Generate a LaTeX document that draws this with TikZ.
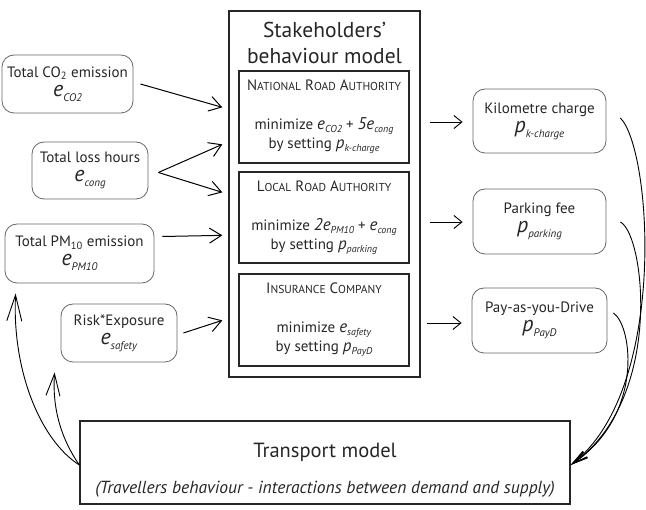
\documentclass[tikz,border=0pt]{standalone}
\usepackage{fontspec}
\setmainfont{PT Sans}
\usetikzlibrary{arrows.meta, positioning}

% variables with lowered subscripts
\newcommand{\bigvar}[2]{{\fontsize{22}{24}\selectfont\textit{#1}}\raisebox{-5pt}{\fontsize{11}{12}\selectfont\textit{#2}}}
\newcommand{\invar}[2]{{\fontsize{17}{19}\selectfont\textit{#1}}\raisebox{-3pt}{\fontsize{10}{11}\selectfont\textit{#2}}}
\newcommand{\scfont}{\fontsize{11.5}{14}\selectfont}

\begin{document}
\begin{tikzpicture} [
						x=1pt, y=-1pt,
						indicator/.style={draw=black!60, line width=0.8pt, rounded corners=12pt, align=center, inner sep=2pt},
						actor/.style={draw=black!85, line width=1.6pt, minimum width=170pt, minimum height=92pt, align=center, inner sep=2pt},
						model/.style={draw=black!85, line width=1.3pt},
						flow/.style={-{Straight Barb[length=12pt,width=15pt]}, line width=1pt},
						price/.style={-{Straight Barb[length=8pt,width=13pt]}, line width=0.9pt},
						feedback/.style={line width=0.9pt},
						every node/.style={text=black!85, font=\fontsize{15}{19}\selectfont}
					]

\useasboundingbox (0,0) rectangle (646,510);

% stakeholders
\node (stake) [model, minimum width=191pt, minimum height=366pt] at (324.5,194) {};
\node (stake-title) [align=center, font=\fontsize{21.5}{26}\selectfont] at (324.5,43) {Stakeholders’\\behaviour model};
\node (nra) [actor] at (324,117) {N{\scfont ATIONAL} R{\scfont OAD} A{\scfont UTHORITY}\\[20pt]
	minimize \invar{e}{CO2} + \invar{5e}{cong}\\ by setting \invar{p}{k-charge}};
\node (lra) [actor, minimum height=91pt] at (324,217.5) {L{\scfont OCAL} R{\scfont OAD} A{\scfont UTHORITY}\\[20pt]
	minimize \invar{2e}{PM10} + \invar{e}{cong}\\ by setting \invar{p}{parking}};
\node (ins) [actor] at (324,320) {I{\scfont NSURANCE} C{\scfont OMPANY}\\[20pt]
	minimize \invar{e}{safety}\\ by setting \invar{p}{PayD}};

% indicators
\node (co2) [indicator, minimum width=131pt, minimum height=58pt] at (67.5,84) {Total CO\textsubscript{2} emission\\ \bigvar{e}{CO2}};
\node (loss) [indicator, minimum width=116pt, minimum height=57pt] at (90,170.5) {Total loss hours\\ \bigvar{e}{cong}};
\node (pm) [indicator, minimum width=149pt, minimum height=59pt] at (79.5,253.5) {Total PM\textsubscript{10} emission\\ \bigvar{e}{PM10}};
\node (risk) [indicator, minimum width=116pt, minimum height=58pt] at (119,333) {Risk*Exposure\\ \bigvar{e}{safety}};

% prices
\node (km) [indicator, minimum width=133pt, minimum height=64pt] at (539.5,121) {Kilometre charge\\ \bigvar{p}{k-charge}};
\node (park) [indicator, minimum width=133pt, minimum height=65pt] at (539.5,221.5) {Parking fee\\ \bigvar{p}{parking}};
\node (payd) [indicator, minimum width=135pt, minimum height=65pt] at (539.5,320.5) {Pay-as-you-Drive\\ \bigvar{p}{PayD}};

% transport model
\node (transport) [model, minimum width=490pt, minimum height=83pt] at (325,462.5) {};
\node (transport-name) [font=\fontsize{20.5}{24}\selectfont] at (325,452) {Transport model};
\node (transport-note) [font=\fontsize{17.5}{20}\itshape] at (325,489) {(Travellers behaviour - interactions between demand and supply)};

\draw[flow] ([xshift=7pt]co2.east) -- ([xshift=-6pt,yshift=-97pt]stake.north west);
\draw[flow] ([xshift=10pt,yshift=-2pt]loss.east) -- ([xshift=-6pt,yshift=-134pt]stake.north west);
\draw[flow] ([xshift=10pt,yshift=-2pt]loss.east) -- ([xshift=-6pt,yshift=-182pt]stake.north west);
\draw[flow] ([xshift=8pt,yshift=17pt]pm.east) -- ([xshift=-6pt,yshift=-225pt]stake.north west);
\draw[flow] ([xshift=6pt]risk.east) -- ([xshift=-6pt,yshift=-310pt]stake.north west);

\draw[price] ([xshift=-43pt,yshift=-1pt]km.west) -- ([xshift=-10pt,yshift=-1pt]km.west);
\draw[price] ([xshift=-43pt,yshift=-0.5pt]park.west) -- ([xshift=-10pt,yshift=-0.5pt]park.west);
\draw[price] ([xshift=-45pt,yshift=-2.5pt]payd.west) -- ([xshift=-10pt,yshift=-2.5pt]payd.west);

% feedback loops
\draw[feedback, -{Straight Barb[length=16pt,width=7pt]}] ([xshift=14pt,yshift=3pt]km.east) .. controls (652,150) and (668,390) .. ([yshift=-2.5pt]transport.east);
\draw[feedback, -{Straight Barb[length=16pt,width=7pt]}] ([xshift=14pt,yshift=-0.5pt]park.east) .. controls (645,235) and (664,400) .. ([yshift=-2.5pt]transport.east);
\draw[feedback, -{Straight Barb[length=16pt,width=7pt]}] ([xshift=6pt,yshift=7.5pt]payd.east) .. controls (632,325) and (645,415) .. ([yshift=-2.5pt]transport.east);
\draw[feedback, -{Straight Barb[length=26pt,width=15pt]}] ([yshift=-2.5pt]transport.west) .. controls (40,440) and (12,370) .. ([xshift=11pt,yshift=-10pt]pm.south west);
\draw[feedback, -{Straight Barb[length=22pt,width=14pt]}] ([yshift=-2.5pt]transport.west) .. controls (62,440) and (52,410) .. ([xshift=-6pt,yshift=-10pt]risk.south west);
\end{tikzpicture}
\end{document}
